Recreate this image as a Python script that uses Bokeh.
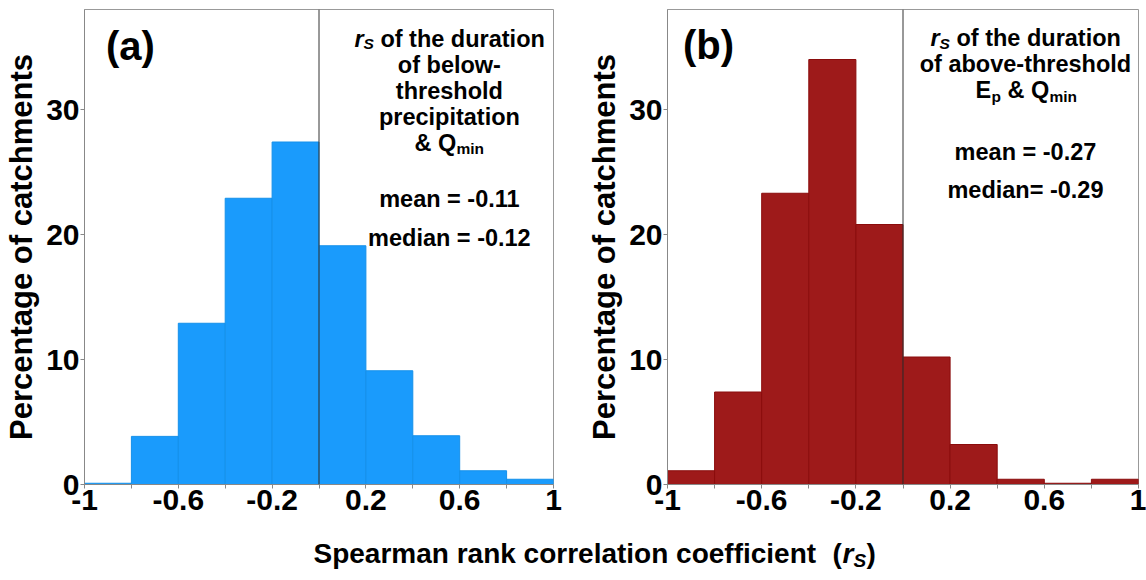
from bokeh.plotting import figure
from bokeh.models import Range1d, FixedTicker, Span, Label
from bokeh.layouts import column, row
from bokeh.embed import file_html
from bokeh.resources import INLINE

# ---- data ----
bin_edges = [-1.0, -0.8, -0.6, -0.4, -0.2, 0.0, 0.2, 0.4, 0.6, 0.8, 1.0]
pct_below_precip = [0.1, 3.85, 12.9, 22.9, 27.4, 19.1, 9.1, 3.9, 1.1, 0.42]
pct_above_ep = [1.1, 7.4, 23.3, 34.0, 20.8, 10.2, 3.2, 0.42, 0.1, 0.42]
x_tick_vals = [-1, -0.6, -0.2, 0.2, 0.6, 1]
x_tick_labels = ["-1", "-0.6", "-0.2", "0.2", "0.6", "1"]
x_minor_vals = [-0.8, -0.4, 0.0, 0.4, 0.8]
y_tick_vals = [0, 10, 20, 30]

FONT = "Liberation Sans"
ANN = "23.5px"
SUB = "15.5px"


def lab(p, x, y, text, size=ANN, style="bold", align="center", xo=0, yo=0):
    p.add_layout(Label(x=x, y=y, text=text, text_font=FONT, text_font_style=style,
                       text_font_size=size, text_align=align, text_baseline="middle",
                       x_offset=xo, y_offset=yo, text_color="black"))


def panel(values, fill, edge, bl, br):
    p = figure(width=573, height=526, output_backend="svg", toolbar_location=None,
               x_range=Range1d(-1, 1), y_range=Range1d(0, 38.0),
               min_border_left=bl, min_border_right=br, min_border_top=9, min_border_bottom=42)
    p.xgrid.visible = False
    p.ygrid.visible = False
    p.outline_line_color = "#999999"
    p.outline_line_width = 1
    p.quad(left=bin_edges[:-1], right=bin_edges[1:], top=values, bottom=0,
           fill_color=fill, line_color=edge, line_width=1)
    p.add_layout(Span(location=0, dimension="height", line_color="#333333", line_width=1))
    p.xaxis.ticker = FixedTicker(ticks=x_tick_vals, minor_ticks=x_minor_vals)
    p.xaxis.major_label_overrides = dict(zip(x_tick_vals, x_tick_labels))
    p.yaxis.ticker = FixedTicker(ticks=y_tick_vals, minor_ticks=[])
    for ax in (p.xaxis[0], p.yaxis[0]):
        ax.major_label_text_font = FONT
        ax.major_label_text_font_style = "bold"
        ax.major_label_text_font_size = "30px"
        ax.major_label_text_color = "black"
        ax.axis_line_color = "#888888"
        ax.major_tick_line_color = "#888888"
        ax.minor_tick_line_color = "#888888"
        ax.major_tick_in = 0
        ax.major_tick_out = 4
        ax.minor_tick_in = 0
        ax.minor_tick_out = 4
        ax.major_label_standoff = 1
    p.yaxis.axis_label = "Percentage of catchments"
    p.yaxis.axis_label_text_font = FONT
    p.yaxis.axis_label_text_font_style = "bold"
    p.yaxis.axis_label_text_font_size = "31px"
    p.yaxis.axis_label_text_color = "black"
    p.yaxis.axis_label_standoff = 4
    return p


def rs_line(p, x, y):
    lab(p, x, y, "r", style="bold italic", align="left", xo=-95)
    lab(p, x, y, "S", size=SUB, style="bold italic", align="left", xo=-86, yo=-5)
    lab(p, x, y, "of the duration", align="left", xo=-69)


pa = panel(pct_below_precip, "#1a9bfc", "#1590ea", 84, 20)
lab(pa, -0.804, 35.1, "(a)", size="40px")
xa = 0.556
rs_line(pa, xa, 35.68)
lab(pa, xa, 33.6, "of below-")
lab(pa, xa, 31.52, "threshold")
lab(pa, xa, 29.44, "precipitation")
lab(pa, xa, 27.36, "& Q", align="left", xo=-35)
lab(pa, xa, 27.36, "min", size=SUB, align="left", xo=7, yo=-6)
lab(pa, xa, 22.88, "mean = -0.11")
lab(pa, xa, 19.76, "median = -0.12")

pb = panel(pct_above_ep, "#9e1a1a", "#8a0c0c", 94, 8)
lab(pb, -0.826, 35.2, "(b)", size="40px")
xb = 0.52
rs_line(pb, xb, 35.72)
lab(pb, xb, 33.64, "of above-threshold")
lab(pb, xb, 31.56, "E", align="left", xo=-50)
lab(pb, xb, 31.56, "p", size=SUB, align="left", xo=-34, yo=-6)
lab(pb, xb, 31.56, "& Q", align="left", xo=-18)
lab(pb, xb, 31.56, "min", size=SUB, align="left", xo=24, yo=-6)
lab(pb, xb, 26.6, "mean = -0.27")
lab(pb, xb, 23.56, "median= -0.29")

pc = figure(width=1146, height=54, output_backend="svg", toolbar_location=None,
            x_range=Range1d(0, 1146), y_range=Range1d(0, 54),
            min_border_left=0, min_border_right=0, min_border_top=0, min_border_bottom=0)
pc.axis.visible = False
pc.grid.visible = False
pc.outline_line_color = None
lab(pc, 313, 27, "Spearman rank correlation coefficient", size="28px", align="left")
lab(pc, 832, 27, "(", size="28px", align="left")
lab(pc, 842, 27, "r", size="28px", style="bold italic", align="left")
lab(pc, 853, 27, "S", size="19px", style="bold italic", align="left", yo=-7)
lab(pc, 866, 27, ")", size="28px", align="left")

layout = column(row(pa, pb), pc)
open("out.html", "w").write(file_html(layout, INLINE))
